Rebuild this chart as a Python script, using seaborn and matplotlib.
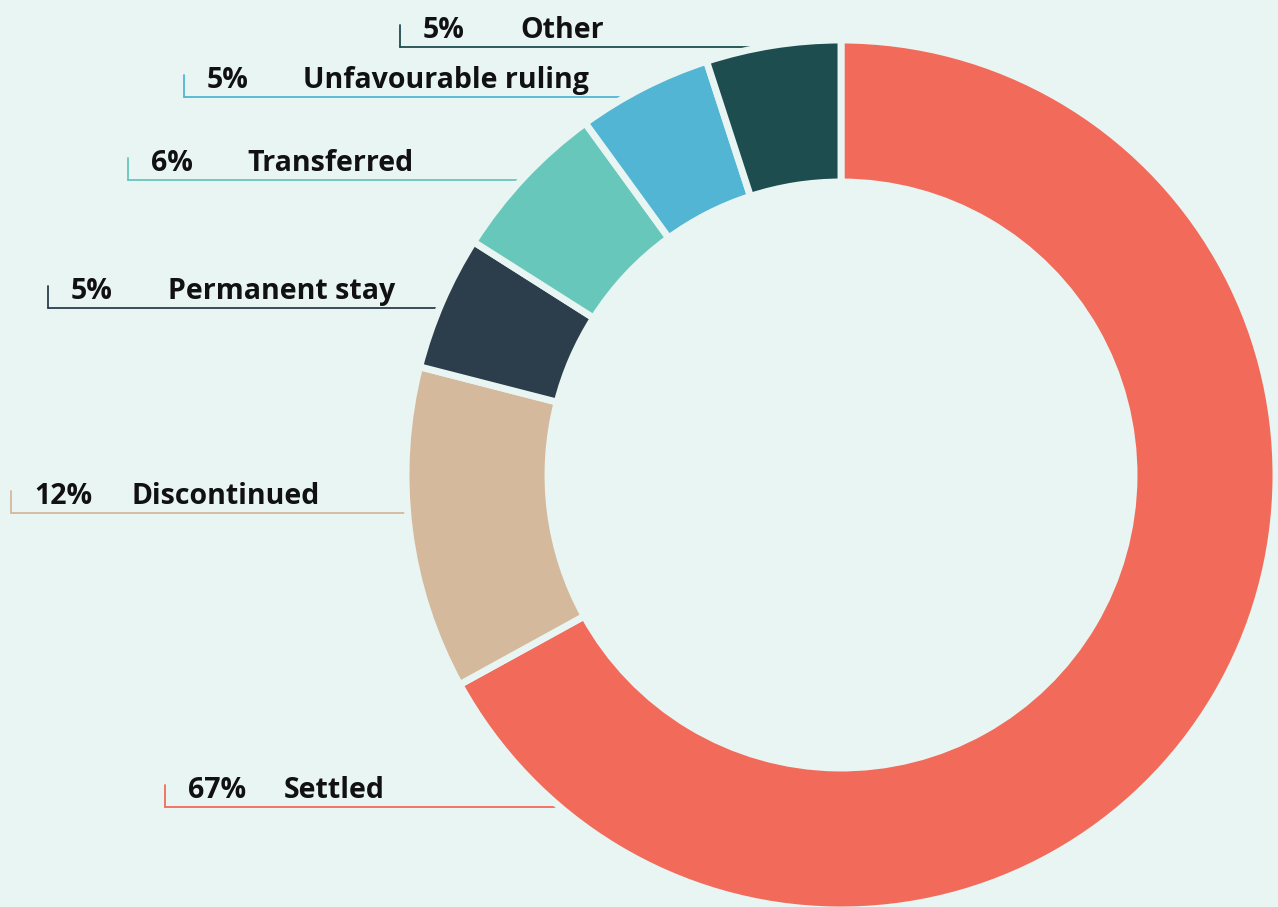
import matplotlib.pyplot as plt
import seaborn as sns
import numpy as np

# Outcome shares (%), clockwise from 12 o'clock
outcomes = ['Settled', 'Discontinued', 'Permanent stay', 'Transferred',
            'Unfavourable ruling', 'Other']
shares = [67, 12, 5, 6, 5, 5]
colors = ['#F26A5A', '#D5B99D', '#2C3E4C', '#67C7BB', '#52B5D4', '#1E4D50']

# label anchor (pixel x of tick, pixel y of underline)
label_px = [165, 11, 48, 128, 184, 400]
label_py = [807, 513, 308, 180, 97, 47]
name_offset = [119, 120, 120, 119, 119, 120]

bg = '#E8F5F2'
W, H = 1278, 907
cx, cy, R = 841, 475, 435

sns.set_theme(style='white')
plt.rcParams['font.family'] = ['Open Sans', 'Noto Sans', 'DejaVu Sans']

fig = plt.figure(figsize=(W / 100, H / 100), dpi=100, facecolor=bg)
ax = fig.add_axes([0, 0, 1, 1])
ax.set_facecolor(bg)


def to_data(px, py):
    return (px - cx) / R, (cy - py) / R


wedges, _ = ax.pie(
    shares, colors=colors, startangle=90, counterclock=False, radius=1,
    wedgeprops=dict(width=142 / R, edgecolor=bg, linewidth=5),
)
for w in wedges:
    w.set_zorder(3)

for name, val, col, px, py, off in zip(outcomes, shares, colors,
                                       label_px, label_py, name_offset):
    x0, y0 = to_data(px, py)
    x_end = -np.sqrt(max(1 - y0 ** 2, 0)) + 0.02
    ax.plot([x0, x0], [y0, y0 + 22 / R], color=col, lw=1.3, zorder=2)
    ax.plot([x0, x_end], [y0, y0], color=col, lw=1.3, zorder=2)
    tx, ty = to_data(px + 23, py - 9)
    ax.text(tx, ty, f'{val}%', fontsize=20.5, fontweight='bold',
            color='#111111', va='baseline', ha='left', zorder=4)
    nx, _ = to_data(px + off, py)
    ax.text(nx, ty, name, fontsize=20.5, fontweight='bold',
            color='#111111', va='baseline', ha='left', zorder=4)

ax.set_xlim(-cx / R, (W - cx) / R)
ax.set_ylim(-(H - cy) / R, cy / R)
ax.set_aspect('auto')
ax.axis('off')

fig.savefig('out.png', dpi=100, facecolor=bg)
